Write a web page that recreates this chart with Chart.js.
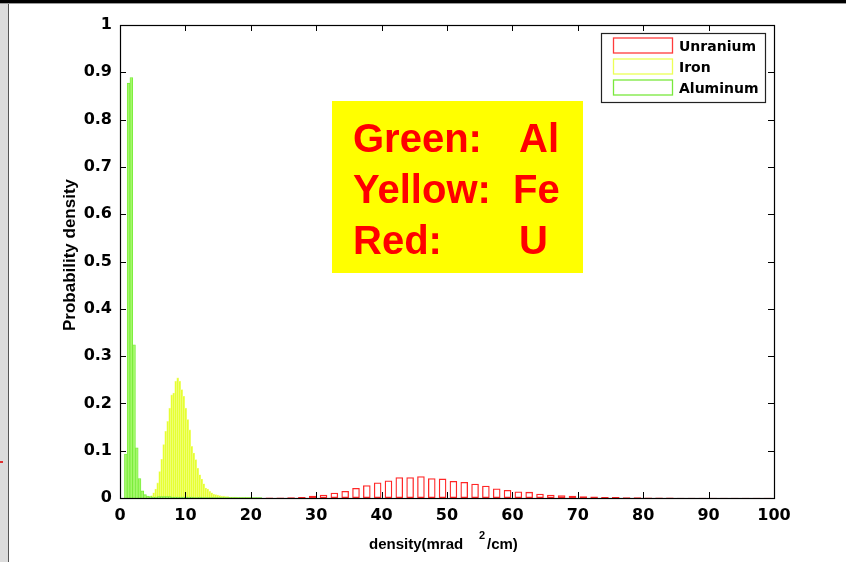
<!DOCTYPE html>
<html>
<head>
<meta charset="utf-8">
<script src="https://cdn.jsdelivr.net/npm/chart.js@4.4.1/dist/chart.umd.min.js"></script>
<style>
  html, body { margin: 0; padding: 0; background: #fff; overflow: hidden; }
  canvas { display: block; }
</style>
</head>
<body>
<canvas id="chart" width="846" height="562"></canvas>
<script>
// Histogram bin layout (first bin centre and bin width, in mrad^2/cm)
const AL_FIRST_BIN = 0.89,  AL_BIN_WIDTH = 0.42;
const FE_FIRST_BIN = 4.54,  FE_BIN_WIDTH = 0.306;
const U_FIRST_BIN  = 21.19, U_BIN_WIDTH  = 1.655;

// Probability density per bin
const aluminumDensity = [
  0.093, 0.877, 0.889, 0.324, 0.106, 0.041, 0.015, 0.007, 0.004, 0.003,
  0.002, 0.002, 0.003, 0.003, 0.003, 0.003, 0.003, 0.002, 0.002, 0.002,
  0.002, 0.002, 0.002, 0.002, 0.002, 0.001, 0.001, 0.002, 0.001, 0.001,
  0.001, 0.001, 0.001, 0.001, 0.001, 0.001, 0.001, 0.001, 0.001, 0.001,
  0.001, 0.001, 0.001, 0.001, 0.001, 0.001, 0.001, 0.001, 0.001, 0.001
];
const ironDensity = [
  0.002, 0.005, 0.011, 0.019, 0.032, 0.056, 0.082, 0.113, 0.141, 0.162,
  0.190, 0.218, 0.222, 0.247, 0.254, 0.247, 0.229, 0.215, 0.190, 0.166,
  0.144, 0.109, 0.095, 0.081, 0.063, 0.049, 0.040, 0.030, 0.021, 0.019,
  0.014, 0.011, 0.008, 0.007, 0.006, 0.005, 0.004, 0.004, 0.003, 0.003,
  0.002, 0.002, 0.002, 0.002, 0.001, 0.001, 0.001, 0.001, 0.001, 0.001,
  0.001, 0.001
];
const uraniumDensity = [
  0.0005, 0.001, 0.001, 0.0015, 0.002, 0.005, 0.007, 0.011, 0.015, 0.021,
  0.027, 0.033, 0.037, 0.044, 0.044, 0.046, 0.042, 0.041, 0.036, 0.034,
  0.030, 0.026, 0.020, 0.017, 0.014, 0.013, 0.009, 0.007, 0.006, 0.005,
  0.0035, 0.003, 0.002, 0.002, 0.0015, 0.0015, 0.001, 0.001, 0.001, 0.0005,
  0.0005, 0.0005, 0.0005, 0.0005, 0.0005, 0.0005, 0.0005, 0.0005
];

const SERIES_NAMES = ['Unranium', 'Iron', 'Aluminum'];
const X_TICK_LABELS = ['0', '10', '20', '30', '40', '50', '60', '70', '80', '90', '100'];
const Y_TICK_LABELS = ['0', '0.1', '0.2', '0.3', '0.4', '0.5', '0.6', '0.7', '0.8', '0.9', '1'];
const NOTE_LINES = [['Green:', 'Al'], ['Yellow:', 'Fe'], ['Red:', 'U']];
const X_TITLE_PARTS = ['density(mrad', '2', '/cm)'];
const Y_TITLE = 'Probability density';

const FONT = '"DejaVu Sans", Verdana, sans-serif';
const TITLE_FONT = '"Liberation Sans", Arial, sans-serif';

function binPoints(first, width, values) {
  return values.map((v, i) => ({ x: first + width * i, y: v }));
}

// Window frame, axes box with inward ticks, note box, legend and axis titles
const figureDecor = {
  id: 'figureDecor',
  beforeDraw(chart) {
    const c = chart.ctx;
    c.save();
    c.fillStyle = '#ffffff';
    c.fillRect(0, 0, chart.width, chart.height);
    c.fillStyle = '#dcdcdc';
    c.fillRect(0, 0, 8, chart.height);
    c.fillStyle = '#555555';
    c.fillRect(8, 0, 1, chart.height);
    c.fillStyle = '#e03030';
    c.fillRect(0, 461, 3, 2);
    c.fillStyle = '#000000';
    c.fillRect(0, 0, chart.width, 3);
    c.fillStyle = '#9a9a9a';
    c.fillRect(0, 3, chart.width, 1);
    c.restore();
  },
  afterDatasetsDraw(chart) {
    const c = chart.ctx;
    const a = chart.chartArea;
    const xs = chart.scales.x, ys = chart.scales.y;
    c.save();
    // inward tick marks on all four sides
    c.strokeStyle = '#000';
    c.lineWidth = 1;
    const tl = 6;
    c.beginPath();
    xs.ticks.forEach(t => {
      const px = Math.round(xs.getPixelForValue(t.value)) + 0.5;
      c.moveTo(px, a.bottom); c.lineTo(px, a.bottom - tl);
      c.moveTo(px, a.top); c.lineTo(px, a.top + tl);
    });
    ys.ticks.forEach(t => {
      const py = Math.round(ys.getPixelForValue(t.value)) + 0.5;
      c.moveTo(a.left, py); c.lineTo(a.left + tl, py);
      c.moveTo(a.right, py); c.lineTo(a.right - tl, py);
    });
    c.stroke();
    // axes box
    c.lineWidth = 1.2;
    c.strokeRect(Math.round(a.left) + 0.5, Math.round(a.top) + 0.5,
                 Math.round(a.right - a.left), Math.round(a.bottom - a.top));

    // note box
    c.fillStyle = '#ffff00';
    c.fillRect(332, 101, 251, 172);
    c.fillStyle = '#ff0000';
    c.font = 'bold 40px ' + TITLE_FONT;
    c.textBaseline = 'alphabetic';
    c.textAlign = 'left';
    const baselines = [152, 203, 254];
    const rightCol = [519, 513, 519];
    NOTE_LINES.forEach((ln, i) => {
      c.fillText(ln[0], 353, baselines[i]);
      c.fillText(ln[1], rightCol[i], baselines[i]);
    });

    // legend
    const lx = 601, ly = 33, lw = 164, lh = 69;
    c.fillStyle = '#ffffff';
    c.fillRect(lx, ly, lw, lh);
    c.strokeStyle = '#222';
    c.lineWidth = 1.2;
    c.strokeRect(lx + 0.5, ly + 0.5, lw, lh);
    c.font = 'bold 14px ' + FONT;
    c.textBaseline = 'middle';
    chart.data.datasets.forEach((ds, i) => {
      const cy = 46 + i * 21;
      c.strokeStyle = ds.swatchEdge;
      c.lineWidth = 1.3;
      c.strokeRect(613.5, cy - 8, 59, 15);
      c.fillStyle = '#000';
      c.fillText(ds.label, 679, cy + 1);
    });
    c.restore();
  },
  afterDraw(chart) {
    const c = chart.ctx;
    c.save();
    c.fillStyle = '#000';
    // y axis title
    c.font = 'bold 17px ' + TITLE_FONT;
    c.textAlign = 'center';
    c.textBaseline = 'middle';
    c.translate(70, 255);
    c.rotate(-Math.PI / 2);
    c.fillText(Y_TITLE, 0, 0);
    c.setTransform(1, 0, 0, 1, 0, 0);
    // x axis title with superscript
    c.textAlign = 'left';
    c.textBaseline = 'alphabetic';
    c.font = 'bold 15px ' + TITLE_FONT;
    c.fillText(X_TITLE_PARTS[0], 369, 549);
    c.font = 'bold 11px ' + TITLE_FONT;
    c.fillText(X_TITLE_PARTS[1], 479, 539);
    c.font = 'bold 15px ' + TITLE_FONT;
    c.fillText(X_TITLE_PARTS[2], 487, 549);
    c.restore();
  }
};

const tickFont = { family: FONT, size: 16, weight: 'bold' };
const noTicks = s => { s.ticks = []; };

new Chart(document.getElementById('chart'), {
  type: 'bar',
  data: {
    datasets: [
      {
        label: SERIES_NAMES[0],
        data: binPoints(U_FIRST_BIN, U_BIN_WIDTH, uraniumDensity),
        xAxisID: 'xU',
        grouped: false,
        backgroundColor: 'rgba(0,0,0,0)',
        borderColor: 'rgba(255,0,0,0.85)',
        borderWidth: 1.3,
        borderSkipped: false,
        barPercentage: 0.7,
        categoryPercentage: 1,
        order: 3,
        swatchEdge: '#ff3b3b'
      },
      {
        label: SERIES_NAMES[1],
        data: binPoints(FE_FIRST_BIN, FE_BIN_WIDTH, ironDensity),
        xAxisID: 'xFe',
        grouped: false,
        backgroundColor: '#e6ff33',
        borderColor: '#f3ff8c',
        borderWidth: 0.6,
        barPercentage: 1,
        categoryPercentage: 1,
        order: 2,
        swatchEdge: '#ecff55'
      },
      {
        label: SERIES_NAMES[2],
        data: binPoints(AL_FIRST_BIN, AL_BIN_WIDTH, aluminumDensity),
        xAxisID: 'x',
        grouped: false,
        backgroundColor: '#a4f86a',
        borderColor: '#74ec34',
        borderWidth: 0.8,
        barPercentage: 1,
        categoryPercentage: 1,
        order: 1,
        swatchEdge: '#7ae83c'
      }
    ]
  },
  options: {
    responsive: false,
    animation: false,
    layout: { padding: { left: 0, top: 25, right: 72, bottom: 0 } },
    plugins: { legend: { display: false }, tooltip: { enabled: false } },
    scales: {
      x: {
        type: 'linear', position: 'bottom', min: 0, max: 100, offset: false,
        grid: { display: false, drawTicks: false, offset: false },
        border: { display: false },
        ticks: {
          stepSize: 10, padding: 8, color: '#000', font: tickFont,
          maxRotation: 0, autoSkip: false,
          callback: (v, i) => X_TICK_LABELS[i]
        },
        afterFit(s) { s.height = 64; }
      },
      xFe: { type: 'linear', min: 0, max: 100, offset: false, display: false, afterBuildTicks: noTicks },
      xU: { type: 'linear', min: 0, max: 100, offset: false, display: false, afterBuildTicks: noTicks },
      y: {
        min: 0, max: 1,
        grid: { display: false, drawTicks: false },
        border: { display: false },
        ticks: {
          stepSize: 0.1, padding: 8, color: '#000', font: tickFont,
          callback: (v, i) => Y_TICK_LABELS[i]
        },
        afterFit(s) { s.width = 120; }
      }
    }
  },
  plugins: [figureDecor]
});
</script>
</body>
</html>
